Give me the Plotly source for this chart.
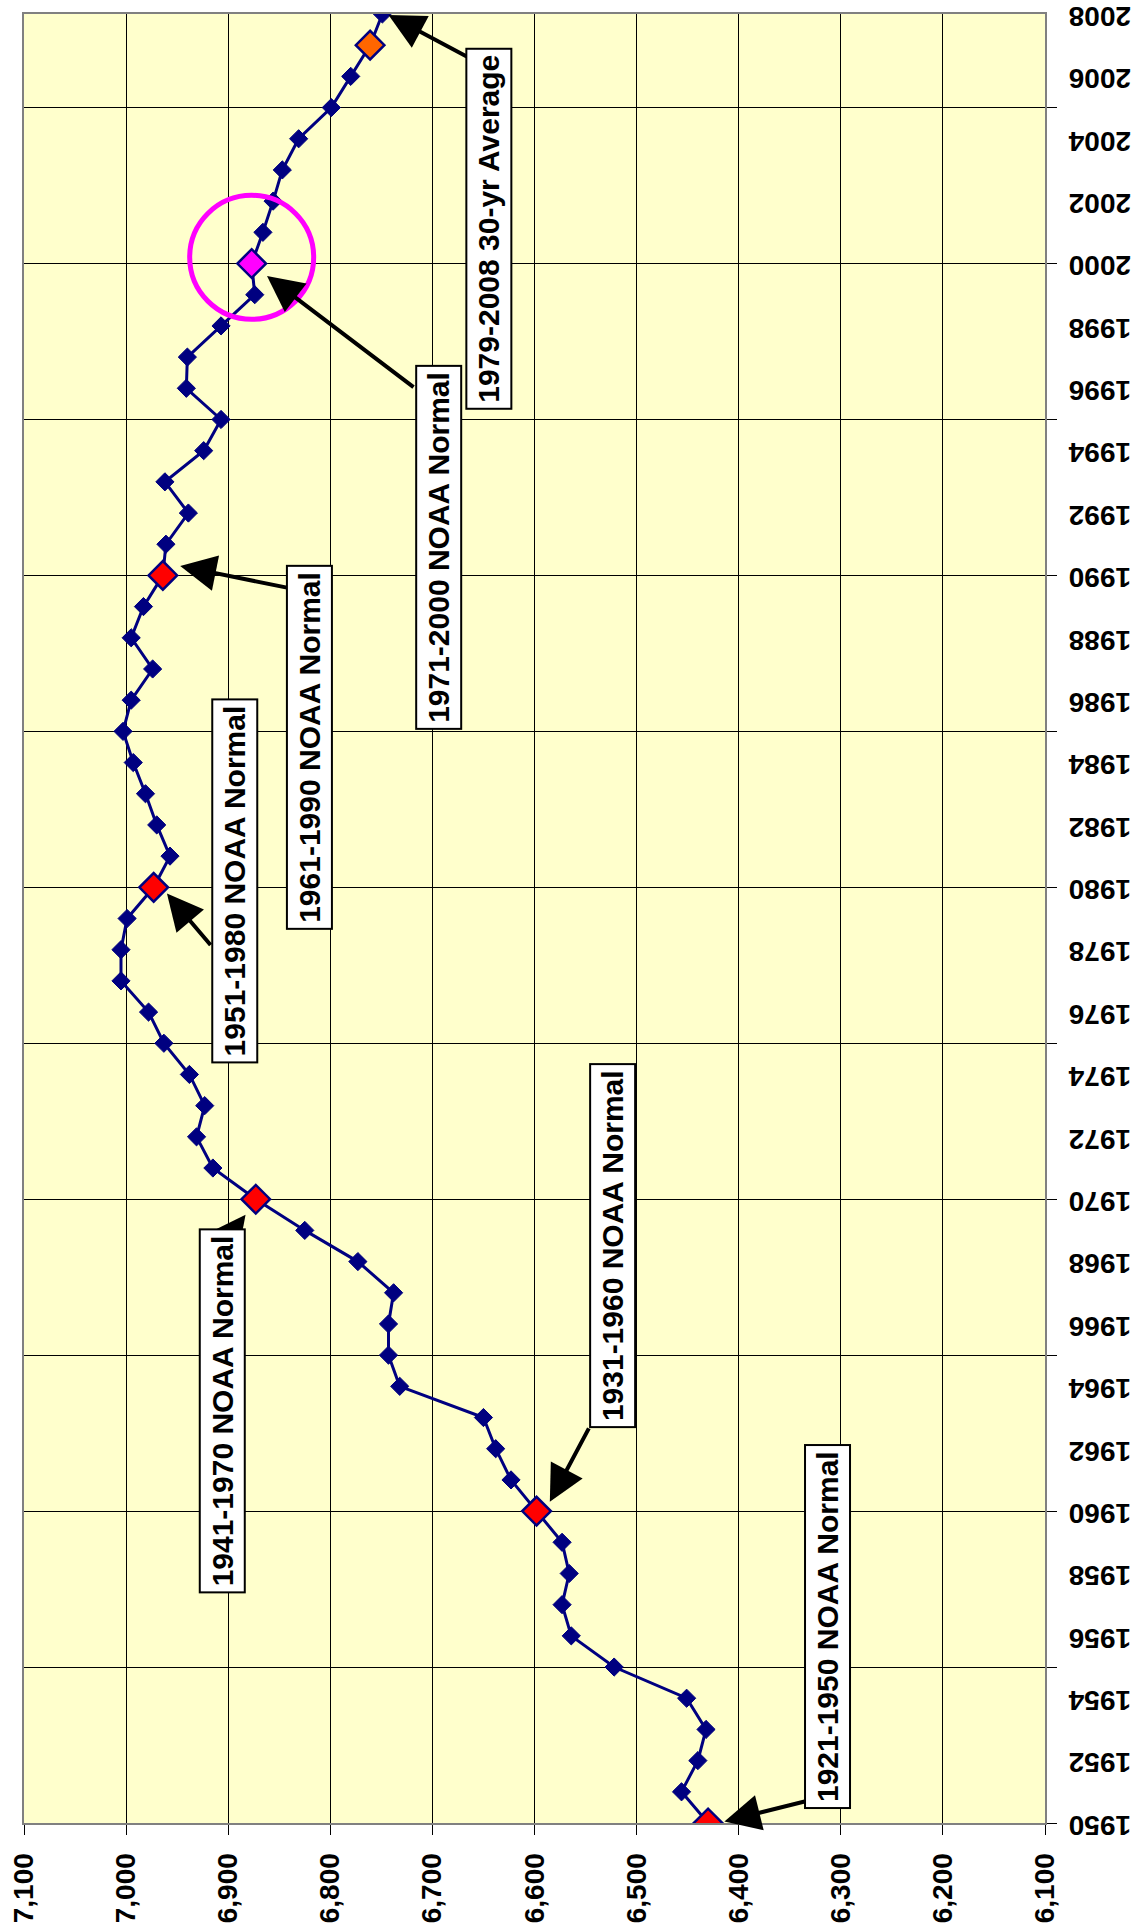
import plotly.graph_objects as go

# heating degree days, 30-yr running normals by ending year
years = list(range(1950, 2009))
hdd = [6430, 6456, 6440, 6432, 6451, 6522, 6564, 6573, 6566, 6573,
       6598, 6623, 6638, 6650, 6732, 6743, 6743, 6738, 6773, 6825,
       6873, 6915, 6931, 6923, 6938, 6963, 6978, 7005, 7005, 6999,
       6973, 6957, 6970, 6981, 6993, 7003, 6995, 6974, 6995, 6983,
       6964, 6961, 6939, 6962, 6924, 6907, 6941, 6940, 6907, 6874,
       6877, 6866, 6856, 6847, 6831, 6799, 6780, 6761, 6749]

noaa_years = [1950, 1960, 1970, 1980, 1990]
current_year = 2000
avg_year = 2007

value_ticks = list(range(6100, 7101, 100))
year_labels = years[::2]

# text boxes: (label, value, year) and arrows: (tail value, tail year, tip value, tip year)
boxes = [
    ("1921-1950 NOAA Normal", 6313, 1956.3),
    ("1931-1960 NOAA Normal", 6523, 1968.5),
    ("1941-1970 NOAA Normal", 6906, 1963.2),
    ("1951-1980 NOAA Normal", 6894, 1980.2),
    ("1961-1990 NOAA Normal", 6820, 1984.5),
    ("1971-2000 NOAA Normal", 6694, 1990.9),
    ("1979-2008 30-yr Average", 6645, 2001.1),
]
arrows = [
    (6334, 1950.7, 6414, 1950.05),
    (6546, 1962.7, 6585, 1960.3),
    (6904, 1968.6, 6883, 1969.5),
    (6916, 1978.1, 6960, 1979.8),
    (6841, 1989.6, 6947, 1990.3),
    (6717, 1996.0, 6862, 1999.6),
    (6653, 2006.4, 6743, 2007.97),
]

font = "Arial, Liberation Sans, sans-serif"
navy = "#000080"

big_x, big_y, big_c = [], [], []
for yr, v in zip(years, hdd):
    if yr in noaa_years:
        big_x.append(v); big_y.append(yr); big_c.append("#FF0000")
    elif yr == current_year:
        big_x.append(v); big_y.append(yr); big_c.append("#FF00FF")
    elif yr == avg_year:
        big_x.append(v); big_y.append(yr); big_c.append("#FF6600")

fig = go.Figure()
fig.add_trace(go.Scatter(x=hdd, y=years, mode="lines+markers",
                         line=dict(color=navy, width=3),
                         marker=dict(symbol="diamond", size=14, color=navy,
                                     line=dict(color=navy, width=1))))
fig.add_trace(go.Scatter(x=big_x, y=big_y, mode="markers",
                         marker=dict(symbol="diamond", size=22, color=big_c,
                                     line=dict(color=navy, width=2.5))))
cur = hdd[years.index(current_year)]
fig.add_trace(go.Scatter(x=[cur], y=[current_year + 0.2], mode="markers",
                         marker=dict(symbol="circle-open", size=124, color="#FF00FF",
                                     line=dict(color="#FF00FF", width=5))))
# invisible trace so the label axis is drawn
fig.add_trace(go.Scatter(x=[hdd[0]], y=[years[0]], yaxis="y2", mode="markers",
                         marker=dict(opacity=0), hoverinfo="skip"))

for tv, ty, hv, hy in arrows:
    fig.add_annotation(x=hv, y=hy, ax=tv, ay=ty, xref="x", yref="y", axref="x", ayref="y",
                       text="", showarrow=True, arrowhead=2, arrowsize=1.8,
                       arrowwidth=4, arrowcolor="black", standoff=0)

for label, v, yr in boxes:
    fig.add_annotation(x=v, y=yr, xref="x", yref="y", text=label, showarrow=False,
                       textangle=-90, bgcolor="white", bordercolor="black",
                       borderwidth=2, borderpad=5,
                       font=dict(family=font, size=30, color="black", weight="bold"))

fig.update_layout(
    width=1139, height=1929,
    margin=dict(l=24, r=94, t=14, b=106),
    paper_bgcolor="white", plot_bgcolor="#FFFFCC",
    showlegend=False,
    xaxis=dict(range=[7100, 6100], tickvals=value_ticks, tickformat=",",
               tickangle=-90, ticks="outside", ticklen=10, tickcolor="black",
               showgrid=True, gridcolor="black", gridwidth=1, zeroline=False,
               showline=True, linecolor="#808080", linewidth=2, mirror=True,
               ticklabelstandoff=7, automargin=False, ticklabeloverflow="allow",
               tickfont=dict(family=font, size=28, color="black", weight="bold")),
    yaxis=dict(range=[1950, 2008], side="right", tick0=1950, dtick=5,
               ticks="outside", ticklen=10, tickcolor="black", automargin=False,
               showticklabels=False, showgrid=True, gridcolor="black", gridwidth=1,
               zeroline=False, showline=True, linecolor="#808080", linewidth=2, mirror=True),
    yaxis2=dict(overlaying="y", side="right", range=[1950, 2008], tickvals=year_labels,
                ticktext=[str(y) for y in year_labels], tickangle=180,
                showgrid=False, zeroline=False, ticks="", ticklabelstandoff=85,
                ticklabelshift=11, automargin=False, ticklabeloverflow="allow",
                tickfont=dict(family=font, size=28, color="black", weight="bold")),
)

# drop the default 8px page margin so the figure fills the window exactly
fig.write_html("out.html", config={"displayModeBar": False},
               post_script="document.body.style.margin='0';")
